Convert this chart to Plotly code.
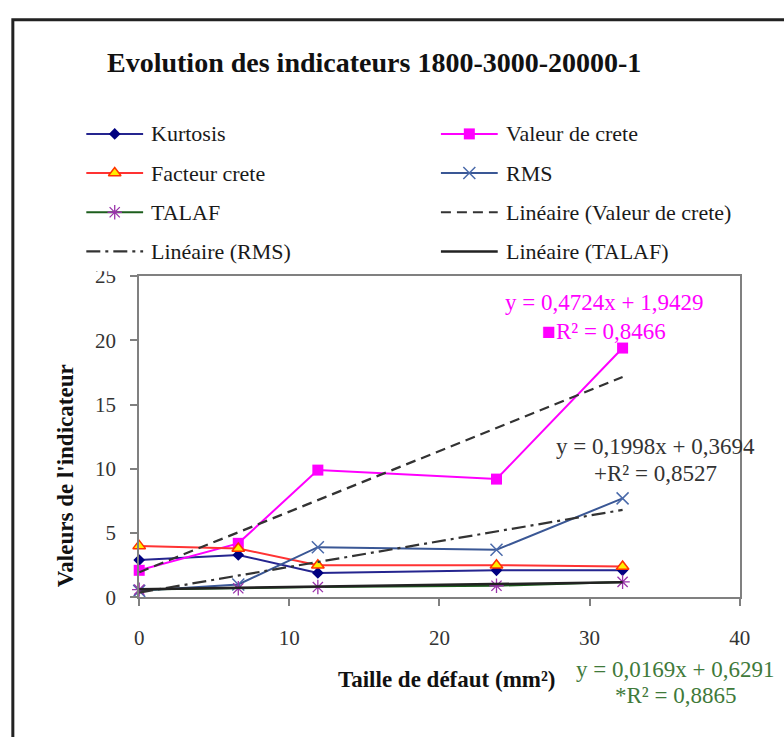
import plotly.graph_objects as go

W, H = 784, 737
SERIF = "Liberation Serif, Times New Roman, serif"

# Defect size (mm²) and the indicator readings measured at each size
defect_size = [0, 6.6, 11.9, 23.8, 32.2]
kurtosis = [2.9, 3.3, 1.9, 2.1, 2.1]
valeur_crete = [2.1, 4.2, 9.9, 9.2, 19.4]
facteur_crete = [4.0, 3.8, 2.5, 2.5, 2.4]
rms = [0.5, 1.0, 3.9, 3.7, 7.7]
talaf = [0.6, 0.7, 0.8, 0.9, 1.2]

# Linear trend lines: slope, intercept, R²
fit_valeur = {"a": 0.4724, "b": 1.9429, "r2": 0.8466}
fit_rms = {"a": 0.1998, "b": 0.3694, "r2": 0.8527}
fit_talaf = {"a": 0.0169, "b": 0.6291, "r2": 0.8865}

x_ticks = [0, 10, 20, 30, 40]
y_ticks = [0, 5, 10, 15, 20, 25]


def px(x):
    """Pixel column -> paper fraction."""
    return x / W


def py(y):
    """Pixel row (from top) -> paper fraction."""
    return 1 - y / H


def fr(v):
    return f"{v:.4f}".replace(".", ",")


# plot area in pixels
PL, PR, PT, PB = 137, 750, 273, 605

series = [
    ("Kurtosis", kurtosis,
     dict(color="#25258f", width=2),
     dict(symbol="diamond", size=9, color="#000080", line=dict(width=0))),
    ("Valeur de crete", valeur_crete,
     dict(color="#ff00ff", width=2),
     dict(symbol="square", size=11, color="#ff00ff", line=dict(width=0))),
    ("Facteur crete", facteur_crete,
     dict(color="#ff3333", width=2),
     dict(symbol="triangle-up", size=11, color="#ffee00",
          line=dict(color="#ff3300", width=1.5))),
    ("RMS", rms,
     dict(color="#3a5795", width=2),
     dict(symbol="x-thin-open", size=12, color="#4a6aaa",
          line=dict(color="#4a6aaa", width=1.5))),
    ("TALAF", talaf,
     dict(color="#1d5e1d", width=2),
     dict(symbol="asterisk-open", size=12, color="#9933aa",
          line=dict(color="#9933aa", width=1.3))),
]

trends = [
    ("Linéaire (Valeur de crete)", fit_valeur,
     dict(color="#333333", width=2.2, dash="10px,6px")),
    ("Linéaire (RMS)", fit_rms,
     dict(color="#333333", width=2.2, dash="14px,5px,3px,5px")),
    ("Linéaire (TALAF)", fit_talaf,
     dict(color="#222222", width=2.5)),
]

fig = go.Figure()

for name, vals, line, marker in series:
    fig.add_trace(go.Scatter(x=defect_size, y=vals, name=name,
                             mode="lines+markers", line=line, marker=marker,
                             cliponaxis=False, showlegend=False))

x_fit = [min(defect_size), max(defect_size)]
for name, fit, line in trends:
    fig.add_trace(go.Scatter(x=x_fit, y=[fit["a"] * x + fit["b"] for x in x_fit],
                             name=name, mode="lines", line=line,
                             cliponaxis=False, showlegend=False))

# Legend drawn on a full-page pixel axis (x2/y2): two columns, four rows
legend_entries = [(s[0], s[2], s[3]) for s in series] + \
                 [(t[0], t[2], None) for t in trends]
col_x = [83, 445]
row_y0, row_step = 126, 40.5
sample_len = 58
annotations = []
for i, (name, line, marker) in enumerate(legend_entries):
    x0 = col_x[i % 2]
    y0 = row_y0 + row_step * (i // 2)
    fig.add_trace(go.Scatter(x=[x0, x0 + sample_len], y=[y0, y0], mode="lines",
                             line=line, xaxis="x2", yaxis="y2",
                             showlegend=False, hoverinfo="skip"))
    if marker is not None:
        fig.add_trace(go.Scatter(x=[x0 + sample_len / 2], y=[y0], mode="markers",
                                 marker=marker, xaxis="x2", yaxis="y2",
                                 showlegend=False, hoverinfo="skip"))
    annotations.append(dict(x=px(x0 + sample_len + 6), y=py(y0), xref="paper",
                            yref="paper", text=name, showarrow=False,
                            xanchor="left", yanchor="middle",
                            font=dict(family=SERIF, size=22, color="#1a1a1a")))

# Title and axis titles
annotations.append(dict(x=px(377), y=py(52), xref="paper", yref="paper",
                        text="<b>Evolution des indicateurs 1800-3000-20000-1</b>",
                        showarrow=False, xanchor="center", yanchor="middle",
                        font=dict(family=SERIF, size=28, color="#111111")))
annotations.append(dict(x=px(451), y=py(690), xref="paper", yref="paper",
                        text="<b>Taille de défaut (mm²)</b>",
                        showarrow=False, xanchor="center", yanchor="middle",
                        font=dict(family=SERIF, size=23, color="#111111")))
annotations.append(dict(x=px(62), y=py(479), xref="paper", yref="paper",
                        text="<b>Valeurs de l'indicateur</b>", textangle=-90,
                        showarrow=False, xanchor="center", yanchor="middle",
                        font=dict(family=SERIF, size=23, color="#111111")))

# Trend equations
eq_labels = [
    (fit_valeur, "■", "#ff00ff", 611, 300, 330),
    (fit_rms, "+", "#333333", 664, 449, 477),
    (fit_talaf, "*", "#3f7a3a", 684, 680, 707),
]
for fit, mark, color, cx, y1, y2 in eq_labels:
    annotations.append(dict(x=px(cx), y=py(y1), xref="paper", yref="paper",
                            text=f"y = {fr(fit['a'])}x + {fr(fit['b'])}",
                            showarrow=False, xanchor="center", yanchor="middle",
                            font=dict(family=SERIF, size=23, color=color)))
    annotations.append(dict(x=px(cx), y=py(y2), xref="paper", yref="paper",
                            text=f"{mark}R² = {fr(fit['r2'])}",
                            showarrow=False, xanchor="center", yanchor="middle",
                            font=dict(family=SERIF, size=23, color=color)))

axis_font = dict(family=SERIF, size=21, color="#333333")
fig.update_layout(
    width=W, height=H,
    margin=dict(l=0, r=0, t=0, b=0),
    paper_bgcolor="white",
    plot_bgcolor="rgba(0,0,0,0)",
    showlegend=False,
    xaxis=dict(domain=[px(PL), px(PR)], range=[0, 40], tickvals=x_ticks,
               ticks="outside", ticklen=7, tickwidth=1.5, tickcolor="#808080",
               showline=True, linecolor="#808080", linewidth=2, mirror=True,
               showgrid=False, zeroline=False, tickfont=axis_font,
               ticklabelstandoff=14, anchor="y"),
    yaxis=dict(domain=[py(PB), py(PT)], range=[0, 25], tickvals=y_ticks,
               ticks="outside", ticklen=7, tickwidth=1.5, tickcolor="#808080",
               showline=True, linecolor="#808080", linewidth=2, mirror=True,
               showgrid=False, zeroline=False, tickfont=axis_font,
               ticklabelstandoff=10, anchor="x"),
    xaxis2=dict(domain=[0, 1], range=[0, W], visible=False,
                anchor="y2", fixedrange=True),
    yaxis2=dict(domain=[0, 1], range=[H, 0], visible=False,
                anchor="x2", fixedrange=True),
    annotations=annotations,
    shapes=[
        # bottom edge of the legend box, trims the top of the highest tick label
        dict(type="rect", xref="paper", yref="paper", layer="above",
             x0=px(85), x1=px(132), y0=py(255), y1=py(268),
             fillcolor="white", line=dict(width=0)),
        # outer chart frame
        dict(type="rect", xref="paper", yref="paper", layer="above",
             x0=px(8), x1=px(830), y0=py(8), y1=py(800),
             fillcolor="rgba(0,0,0,0)", line=dict(color="#222222", width=3)),
    ],
)

fig.write_html("out.html")
